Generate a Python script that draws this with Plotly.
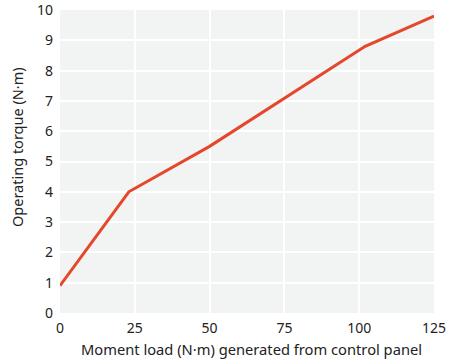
import plotly.graph_objects as go

moment_load = [0, 23, 50, 75, 102, 125]
operating_torque = [0.9, 4.0, 5.5, 7.1, 8.8, 9.8]

x_ticks = [0, 25, 50, 75, 100, 125]
y_ticks = [0, 1, 2, 3, 4, 5, 6, 7, 8, 9, 10]

x_title = "Moment load (N·m) generated from control panel"
y_title = "Operating torque (N·m)"

font_family = "Noto Sans, sans-serif"

fig = go.Figure()
fig.add_trace(go.Scatter(
    x=moment_load, y=operating_torque, mode="lines",
    line=dict(color="#e5472b", width=3),
    cliponaxis=False, showlegend=False, hoverinfo="skip",
))

W, H = 452, 360
L, R, T, B = 60, 18, 10, 47
pw, ph = W - L - R, H - T - B

fig.update_layout(
    width=W, height=H,
    margin=dict(l=L, r=R, t=T, b=B, autoexpand=False),
    paper_bgcolor="white",
    plot_bgcolor="#f2f3f3",
    font=dict(family=font_family, size=14, color="#222222"),
    annotations=[
        dict(text=x_title, xref="paper", yref="paper",
             x=(251 - L) / pw, y=(H - B - 349) / ph,
             xanchor="center", yanchor="middle", showarrow=False,
             font=dict(size=14.7)),
        dict(text=y_title, xref="paper", yref="paper",
             x=(17 - L) / pw, y=(H - B - 147) / ph, textangle=-90,
             xanchor="center", yanchor="middle", showarrow=False,
             font=dict(size=14.5)),
    ],
)
fig.update_xaxes(
    range=[0, 125], tickvals=x_ticks, ticktext=[str(v) for v in x_ticks],
    showgrid=True, gridcolor="white", gridwidth=1.5, zeroline=False,
    showline=False, ticks="", ticklabelstandoff=5, ticklabeloverflow="allow",
    automargin=False, fixedrange=True,
)
fig.update_yaxes(
    range=[0, 10], tickvals=y_ticks, ticktext=[str(v) for v in y_ticks],
    showgrid=True, gridcolor="white", gridwidth=1.5, zeroline=False,
    showline=False, ticks="", ticklabelstandoff=6, ticklabeloverflow="allow",
    automargin=False, fixedrange=True,
)

fig.write_html("out.html", config={"displayModeBar": False},
               post_script="document.body.style.margin='0';document.body.style.padding='0';")
